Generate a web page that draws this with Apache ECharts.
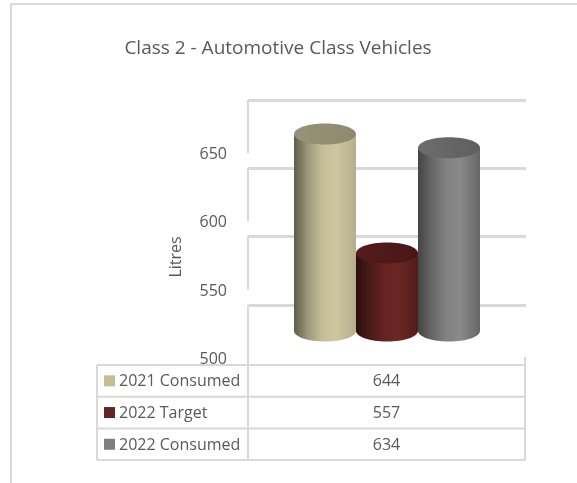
<!DOCTYPE html>
<html>
<head>
<meta charset="utf-8">
<style>html,body{margin:0;padding:0;background:#fff}#chart{width:577px;height:483px}</style>
<script src="https://cdn.jsdelivr.net/npm/echarts@6/dist/echarts.min.js"></script>
</head>
<body>
<div id="chart"></div>
<script>
// Fuel use for class 2 vehicles, in litres
const chartTitle = 'Class 2 - Automotive Class Vehicles';
const axisName = 'Litres';
const seriesNames = ['2021 Consumed', '2022 Target', '2022 Consumed'];
const seriesValues = [644, 557, 634];
const wallTicks = [700, 650, 600, 550];

// Shading per cylinder: legend swatch, side stops (left to right), cap
const swatchColors = ['#c4bd97', '#632423', '#7f7f7f'];
const sideStops = [
  ['#5f5c48', '#9c977c', '#c4bd98', '#cdc69e', '#b4ae8b'],
  ['#2b0f0e', '#4a1a19', '#642322', '#6c2625', '#511c1b'],
  ['#444444', '#666666', '#818181', '#8a8a8a', '#666666']
];
const sideOffsets = [0, 0.22, 0.45, 0.68, 1];
const capColors = [['#97937a', '#8d8a6f'], ['#551c1b', '#471716'], ['#6d6d6d', '#5f5f5f']];

const FONT = 'Open Sans';
const LINE = '#d9d9d9';
const TEXT = '#595959';
const CAP_RY = 10.5;
const WALL_DROP = 39; // how far each side-wall segment falls, in axis units

// Data table under the plot
const table = { left: 97, mid: 248, right: 525, top: 365, rowH: 31.7 };

function tableGraphics() {
  const els = [];
  const line = (x1, y1, x2, y2, color, w) => ({
    type: 'line', z: 100,
    shape: { x1, y1, x2, y2 },
    style: { stroke: color || LINE, lineWidth: w || 2 }
  });
  const bottom = table.top + table.rowH * seriesNames.length;
  els.push({
    type: 'rect', z: 99,
    shape: { x: table.left, y: table.top, width: table.right - table.left, height: bottom - table.top },
    style: { fill: '#fff' }
  });
  seriesNames.forEach((name, i) => {
    const y = table.top + table.rowH * i;
    const cy = y + table.rowH / 2;
    els.push(line(table.left, y, table.right, y));
    els.push({
      type: 'rect', z: 101,
      shape: { x: 104, y: cy - 5.5, width: 11, height: 11 },
      style: { fill: swatchColors[i] }
    });
    els.push({
      type: 'text', z: 101, x: 119, y: cy + 1,
      style: { text: name, fill: TEXT, font: '16px "' + FONT + '"', textAlign: 'left', textVerticalAlign: 'middle' }
    });
    els.push({
      type: 'text', z: 101, x: (table.mid + table.right) / 2, y: cy + 1,
      style: { text: String(seriesValues[i]), fill: TEXT, font: '16px "' + FONT + '"', textAlign: 'center', textVerticalAlign: 'middle' }
    });
  });
  els.push(line(table.left, bottom, table.right, bottom));
  els.push(line(table.left, table.top, table.left, bottom));
  els.push(line(table.mid, table.top - 8, table.mid, bottom));
  els.push(line(table.right, table.top - 8, table.right, bottom));
  // Frame of the chart area, running off the right and bottom
  els.push(line(11, 4, 577, 4));
  els.push(line(11, 4, 11, 483));
  return els;
}

function renderCylinder(params, api) {
  const i = params.dataIndex;
  const top = api.coord([i, api.value(1)]);
  const base = api.coord([i, 500]);
  const w = api.size([1, 0])[0];
  const rx = w / 2;
  const x = top[0] - rx;
  const side = {
    type: 'linear', x: 0, y: 0, x2: 1, y2: 0,
    colorStops: sideStops[i].map((color, k) => ({ offset: sideOffsets[k], color }))
  };
  const cap = {
    type: 'linear', x: 0, y: 0, x2: 1, y2: 0,
    colorStops: [
      { offset: 0, color: capColors[i][0] },
      { offset: 1, color: capColors[i][1] }
    ]
  };
  return {
    type: 'group',
    children: [
      { type: 'rect', shape: { x, y: top[1], width: w, height: base[1] - top[1] }, style: { fill: side } },
      { type: 'ellipse', shape: { cx: top[0], cy: base[1], rx, ry: CAP_RY }, style: { fill: side } },
      { type: 'ellipse', shape: { cx: top[0], cy: top[1], rx, ry: CAP_RY }, style: { fill: cap } }
    ]
  };
}

function renderWallSegment(params, api) {
  const v = api.value(0);
  const a = api.coord([0, v]);
  const b = api.coord([0, v - WALL_DROP]);
  return {
    type: 'line',
    shape: { x1: a[0], y1: a[1], x2: b[0], y2: b[1] },
    style: { stroke: LINE, lineWidth: 2 }
  };
}

const chart = echarts.init(document.getElementById('chart'), null, { renderer: 'canvas' });
chart.setOption({
  animation: false,
  backgroundColor: '#fff',
  title: {
    text: chartTitle, left: 273, top: 34, textAlign: 'center',
    textStyle: { fontFamily: FONT, fontSize: 19, fontWeight: 'normal', color: TEXT }
  },
  grid: [
    { left: 248, width: 278, top: 154.5, height: 205 }, // tick labels, on the front plane
    { left: 248, width: 278, top: 100, height: 273 },   // back wall
    { left: 294, width: 186, top: 57.4, height: 273.6 } // cylinders
  ],
  xAxis: [
    { gridIndex: 0, type: 'value', show: false },
    { gridIndex: 1, type: 'value', show: false, min: 0, max: 1 },
    { gridIndex: 2, type: 'category', show: false, data: seriesNames }
  ],
  yAxis: [
    {
      gridIndex: 0, type: 'value', min: 500, max: 650, interval: 50,
      name: axisName, nameLocation: 'middle', nameGap: 64, nameRotate: 90,
      nameTextStyle: { fontFamily: FONT, fontSize: 16, color: TEXT },
      axisLine: { show: false }, axisTick: { show: false }, splitLine: { show: false },
      axisLabel: { margin: 21, fontFamily: FONT, fontSize: 16, color: TEXT }
    },
    {
      gridIndex: 1, type: 'value', min: 500, max: 700, interval: 50,
      axisLine: { show: false }, axisTick: { show: false }, axisLabel: { show: false },
      splitLine: { show: true, lineStyle: { color: LINE, width: 3 } }
    },
    { gridIndex: 2, type: 'value', min: 500, max: 700, show: false, splitLine: { show: false } }
  ],
  series: [
    {
      type: 'custom', xAxisIndex: 1, yAxisIndex: 1, z: 1, clip: false,
      renderItem: renderWallSegment,
      data: wallTicks.map(v => [v]),
      encode: { y: 0 }
    },
    {
      type: 'custom', xAxisIndex: 2, yAxisIndex: 2, z: 2, clip: false,
      renderItem: renderCylinder,
      data: seriesValues.map((v, i) => [i, v]),
      encode: { x: 0, y: 1 }
    }
  ],
  graphic: { elements: tableGraphics() }
});
</script>
</body>
</html>
